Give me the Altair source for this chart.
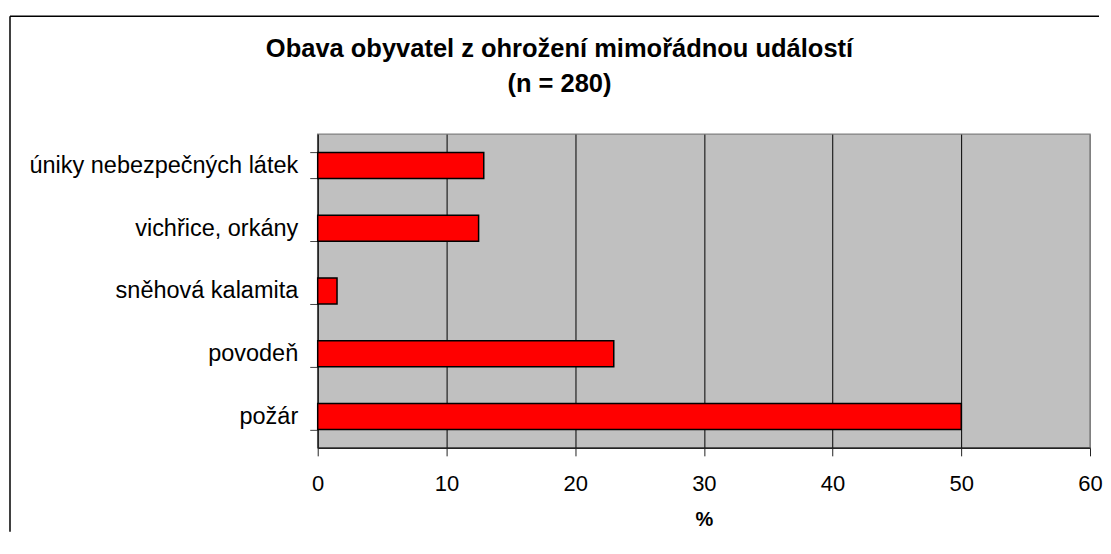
import altair as alt
import pandas as pd

categories = ["úniky nebezpečných látek", "vichřice, orkány", "sněhová kalamita", "povodeň", "požár"]
values = [12.9, 12.5, 1.5, 23.0, 50.0]
title_lines = ["Obava obyvatel z ohrožení mimořádnou událostí", "(n = 280)"]
x_ticks = [0, 10, 20, 30, 40, 50, 60]

df = pd.DataFrame({"kategorie": categories, "procenta": values})
FONT = "Liberation Sans"

bars = alt.Chart(df).mark_bar(color="#FF0000", stroke="#000000", strokeWidth=1.5).encode(
    x=alt.X(
        "procenta:Q",
        scale=alt.Scale(domain=[0, 60], nice=False, zero=True),
        axis=alt.Axis(
            title="%",
            values=x_ticks,
            format="d",
            grid=True,
            gridColor={"condition": {"test": "datum.value === 60 || datum.value === 0", "value": "#808080"}, "value": "#000000"},
            gridWidth=1,
            domainColor="#222222",
            domainWidth=1.5,
            tickColor="#222222",
            tickSize=8,
            labelFlush=False,
            labelFontSize=22,
            labelFont=FONT,
            labelColor="#000000",
            labelPadding=18,
            titleFontSize=20,
            titleFont=FONT,
            titleFontWeight="bold",
            titleColor="#000000",
            titlePadding=15,
        ),
    ),
    y=alt.Y(
        "kategorie:N",
        sort=categories,
        scale=alt.Scale(paddingInner=0.585, paddingOuter=0.2925),
        axis=alt.Axis(
            title=None,
            grid=False,
            domainColor="#222222",
            domainWidth=1.5,
            tickColor="#444444",
            tickSize=8,
            tickBand="extent",
            labelFontSize=23.5,
            labelFont=FONT,
            labelColor="#000000",
            labelPadding=12,
            labelLimit=400,
        ),
    ),
)

one = alt.Data(values=[{}])

frame_top = alt.Chart(one).mark_rule(color="#000000", strokeWidth=1.5).encode(
    x=alt.value(-308), x2=alt.value(782), y=alt.value(-118)
)
frame_left = alt.Chart(one).mark_rule(color="#000000", strokeWidth=1.5).encode(
    x=alt.value(-308), y=alt.value(-118), y2=alt.value(398)
)

title = alt.Chart(one).mark_text(
    text=title_lines,
    font=FONT,
    fontSize=25.5,
    fontWeight="bold",
    color="#000000",
    align="center",
    baseline="alphabetic",
    lineHeight=35.7,
).encode(x=alt.value(242), y=alt.value(-77.5))

chart = alt.layer(frame_top, frame_left, bars, title).properties(
    width=773,
    height=314,
    background="#FFFFFF",
    padding={"left": 1, "top": 7, "right": 0, "bottom": 0},
).configure_view(
    fill="#C0C0C0", stroke="#808080", strokeWidth=1.5
)

chart.save("out.html", embed_options={"renderer": "svg", "actions": False})
